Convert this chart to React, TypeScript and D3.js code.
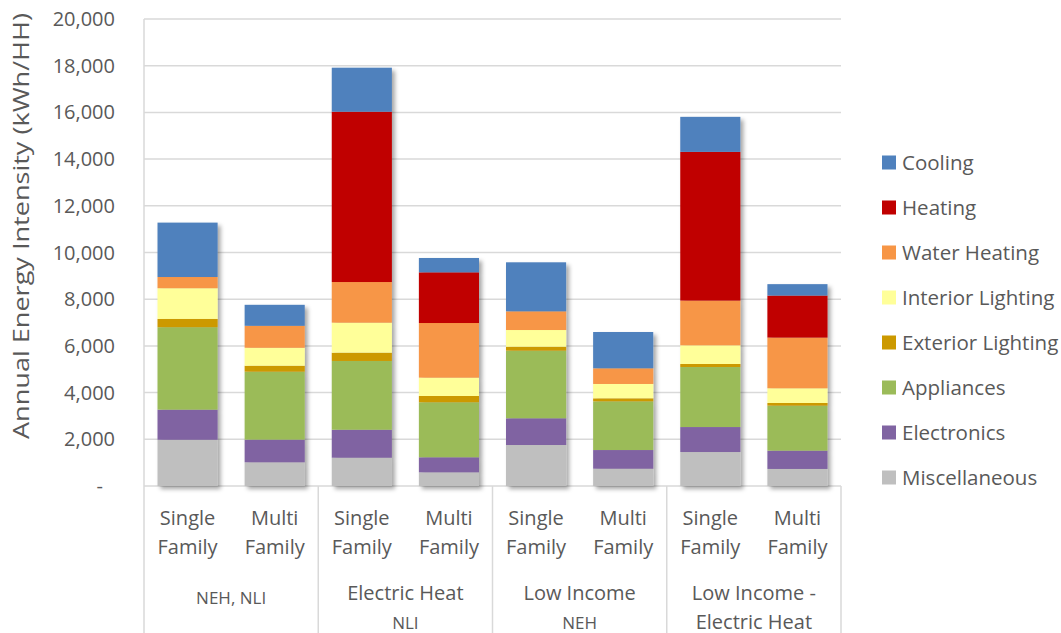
import * as d3 from "d3";

const barLabels = ["Single|Family", "Multi|Family", "Single|Family", "Multi|Family", "Single|Family", "Multi|Family", "Single|Family", "Multi|Family"];
const groupLabels = [["NEH, NLI"], ["Electric Heat", "NLI"], ["Low Income", "NEH"], ["Low Income -", "Electric Heat"]];

// stacked bottom -> top
const seriesNames = ["Miscellaneous", "Electronics", "Appliances", "Exterior Lighting", "Interior Lighting", "Water Heating", "Heating", "Cooling"];
const seriesColors = ["#BFBFBF", "#8064A2", "#9BBB59", "#CC9900", "#FFFF99", "#F79646", "#C00000", "#4F81BD"];

const misc = [1980, 1015, 1210, 585, 1755, 740, 1455, 730];
const electronics = [1290, 970, 1200, 645, 1145, 800, 1070, 785];
const appliances = [3530, 2910, 2945, 2355, 2895, 2085, 2570, 1925];
const exteriorLighting = [355, 255, 355, 270, 170, 130, 130, 115];
const interiorLighting = [1315, 770, 1285, 785, 715, 615, 800, 630];
const waterHeating = [480, 940, 1740, 2340, 800, 670, 1915, 2170];
const heating = [0, 0, 7295, 2170, 0, 0, 6370, 1800];
const cooling = [2330, 900, 1885, 615, 2100, 1555, 1500, 490];

const yTicks = [0, 2000, 4000, 6000, 8000, 10000, 12000, 14000, 16000, 18000, 20000];

const W = 1061;
const H = 633;
const font = "'Open Sans', sans-serif";
const textColor = "#595959";
const gridColor = "#D9D9D9";

export default function App() {
  const values = [misc, electronics, appliances, exteriorLighting, interiorLighting, waterHeating, heating, cooling];
  const rows = barLabels.map((_, i) => {
    const r: Record<string, number> = {};
    seriesNames.forEach((s, k) => (r[s] = values[k][i]));
    return r;
  });
  const stack = d3.stack<Record<string, number>>().keys(seriesNames)(rows);

  const left = 144, right = 841, top = 19, bottom = 486;
  const x = d3.scaleBand<number>().domain(d3.range(8)).range([left, right]).paddingInner(0.31).paddingOuter(0.155);
  const y = d3.scaleLinear().domain([0, 20000]).range([bottom, top]);
  const step = x.step();
  const fmt = d3.format(",");

  return (
    <svg width={W} height={H} style={{ position: "absolute", left: 0, top: 0, background: "#fff" }} fontFamily={font}>
      <defs>
        <filter id="shadow" x="-20%" y="-5%" width="140%" height="110%">
          <feDropShadow dx="3" dy="3" stdDeviation="2" floodColor="#000" floodOpacity="0.35" />
        </filter>
      </defs>

      {/* gridlines */}
      {yTicks.map((t) => (
        <line key={t} x1={left} x2={right} y1={y(t)} y2={y(t)} stroke={gridColor} strokeWidth={1.5} />
      ))}
      <line x1={left} x2={left} y1={top} y2={H} stroke={gridColor} strokeWidth={1.5} />
      {d3.range(1, 5).map((k) => (
        <line key={k} x1={left + k * 2 * step} x2={left + k * 2 * step} y1={bottom} y2={H} stroke={gridColor} strokeWidth={1.5} />
      ))}

      {/* y ticks */}
      {yTicks.map((t) => (
        <text key={t} x={t === 0 ? 103 : 115} y={y(t) + 7} textAnchor="end" fontSize={20} fill={textColor}>
          {t === 0 ? "-" : fmt(t)}
        </text>
      ))}
      <text transform={`translate(29,226) rotate(-90)`} textAnchor="middle" fontSize={22} textLength={426} lengthAdjust="spacingAndGlyphs" fill={textColor}>
        Annual Energy Intensity (kWh/HH)
      </text>

      {/* bars */}
      {d3.range(8).map((i) => (
        <g key={i} filter="url(#shadow)">
          {stack.map((s, k) => {
            const d = s[i];
            if (d[1] - d[0] <= 0) return null;
            return <rect key={k} x={x(i)} y={y(d[1])} width={x.bandwidth()} height={y(d[0]) - y(d[1])} fill={seriesColors[k]} />;
          })}
        </g>
      ))}

      {/* category labels */}
      {barLabels.map((l, i) => {
        const cx = (x(i) as number) + x.bandwidth() / 2;
        return l.split("|").map((line, j) => (
          <text key={i + "-" + j} x={cx} y={525 + j * 29} textAnchor="middle" fontSize={20} fill={textColor}>
            {line}
          </text>
        ));
      })}
      {groupLabels.map((g, k) => {
        const cx = left + (k * 2 + 1) * step;
        return g.map((line, j) =>
          g.length === 1 ? (
            <text key={k + "-" + j} x={cx} y={604} textAnchor="middle" fontSize={17} fill={textColor}>
              {line}
            </text>
          ) : (
            <text key={k + "-" + j} x={cx} y={600 + j * 29} textAnchor="middle" fontSize={j === 1 && k < 3 ? 17 : 20} fill={textColor}>
              {line}
            </text>
          )
        );
      })}

      {/* legend */}
      {seriesNames
        .slice()
        .reverse()
        .map((s, j) => {
          const k = seriesNames.length - 1 - j;
          const cy = 162.5 + j * 45;
          return (
            <g key={s}>
              <rect x={882} y={cy - 7} width={14} height={14} fill={seriesColors[k]} />
              <text x={902} y={cy + 7} fontSize={20.5} fill={textColor}>
                {s}
              </text>
            </g>
          );
        })}
    </svg>
  );
}
